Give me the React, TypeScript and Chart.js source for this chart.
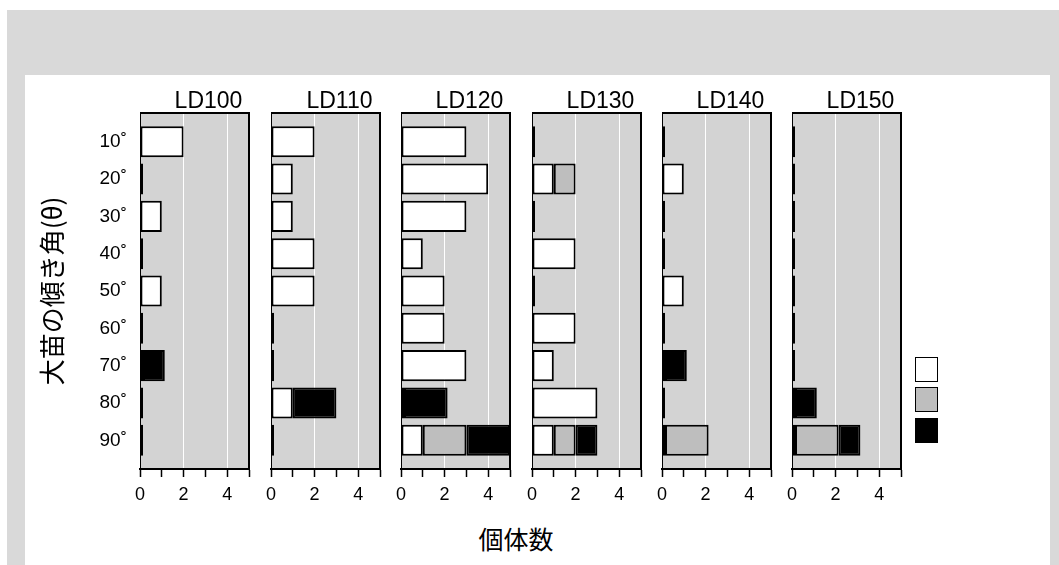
import React, { useEffect, useRef } from "react";
import { Chart, registerables } from "chart.js";
Chart.register(...registerables);

// ---- data ----
const panelNames = ["LD100", "LD110", "LD120", "LD130", "LD140", "LD150"];
const angleLabels = ["10˚", "20˚", "30˚", "40˚", "50˚", "60˚", "70˚", "80˚", "90˚"];
const countMax = 5;
const countLabelStep = 2;

// one row per panel (LD100 ... LD150), one value per angle (10˚ ... 90˚)
const whiteCounts = [
  [2, 0, 1, 0, 1, 0, 0, 0, 0],
  [2, 1, 1, 2, 2, 0, 0, 1, 0],
  [3, 4, 3, 1, 2, 2, 3, 0, 1],
  [0, 1, 0, 2, 0, 2, 1, 3, 1],
  [0, 1, 0, 0, 1, 0, 0, 0, 0],
  [0, 0, 0, 0, 0, 0, 0, 0, 0],
];
const grayCounts = [
  [0, 0, 0, 0, 0, 0, 0, 0, 0],
  [0, 0, 0, 0, 0, 0, 0, 0, 0],
  [0, 0, 0, 0, 0, 0, 0, 0, 2],
  [0, 1, 0, 0, 0, 0, 0, 0, 1],
  [0, 0, 0, 0, 0, 0, 0, 0, 2],
  [0, 0, 0, 0, 0, 0, 0, 0, 2],
];
const blackCounts = [
  [0, 0, 0, 0, 0, 0, 1, 0, 0],
  [0, 0, 0, 0, 0, 0, 0, 2, 0],
  [0, 0, 0, 0, 0, 0, 0, 2, 2],
  [0, 0, 0, 0, 0, 0, 0, 0, 1],
  [0, 0, 0, 0, 0, 0, 1, 0, 0],
  [0, 0, 0, 0, 0, 0, 0, 1, 1],
];
const seriesColors = ["#ffffff", "#bebebe", "#000000"];
const seriesValues = [whiteCounts, grayCounts, blackCounts];

const yTitle = "大苗の傾き角(θ)";
const xTitle = "個体数";

// ---- layout ----
const LATIN = '"Liberation Sans", Arial, "DejaVu Sans", sans-serif';
const CJK = '"Noto Sans CJK JP", "Noto Sans", sans-serif';
const panelLeft = [140, 271, 401, 532, 662, 792];
const panelWidth = 109;
const canvasTop = 85;
const padTop = 28;
const plotHeight = 356;
const xAxisHeight = 40;
const padRight = 15;

const panelPlugin = {
  id: "panelFrame",
  beforeDraw(chart: any) {
    const { ctx, chartArea: a } = chart;
    ctx.save();
    ctx.fillStyle = "#d3d3d3";
    ctx.fillRect(a.left, a.top, a.right - a.left, a.bottom - a.top);
    ctx.restore();
  },
  afterDraw(chart: any) {
    const { ctx, chartArea: a } = chart;
    ctx.save();
    ctx.strokeStyle = "#000";
    ctx.lineWidth = 1;
    ctx.beginPath();
    ctx.moveTo(a.left + 0.5, a.top);
    ctx.lineTo(a.left + 0.5, a.bottom);
    ctx.stroke();
    ctx.lineWidth = 2;
    ctx.beginPath();
    ctx.moveTo(a.left, a.top);
    ctx.lineTo(a.right, a.top);
    ctx.lineTo(a.right, a.bottom);
    ctx.stroke();
    const text = chart.options.plugins.panelFrame?.text;
    if (text) {
      ctx.fillStyle = "#000";
      ctx.font = `23px ${LATIN}`;
      ctx.textAlign = "center";
      ctx.textBaseline = "alphabetic";
      ctx.fillText(text, (a.left + a.right) / 2 + 14, a.top - 5);
    }
    ctx.restore();
  },
};

function Panel({ index }: { index: number }) {
  const ref = useRef<HTMLCanvasElement>(null);
  const isFirst = index === 0;
  const padL = isFirst ? 0 : 15;
  const yAxisW = isFirst ? 110 : 0;
  const left = panelLeft[index] - padL - yAxisW;
  const width = padL + yAxisW + panelWidth + padRight;
  const height = padTop + plotHeight + xAxisHeight;

  useEffect(() => {
    if (!ref.current) return;
    const chart = new Chart(ref.current, {
      type: "bar",
      data: {
        datasets: seriesValues.map((vals, k) => ({
          label: "",
          data: vals[index].map((v, j) => ({ x: v, y: j + 1 })),
          backgroundColor: seriesColors[k],
          borderColor: "#000",
          borderWidth: 2,
          borderSkipped: false,
          minBarLength: k === 0 ? 3 : 0,
          categoryPercentage: 1,
          barPercentage: 1 / 1.2,
          stack: "s",
        })),
      },
      options: {
        indexAxis: "y",
        animation: false,
        responsive: false,
        devicePixelRatio: 1,
        layout: { padding: { left: padL, right: padRight, top: padTop, bottom: 0 } },
        plugins: {
          legend: { display: false },
          tooltip: { enabled: false },
          title: { display: false },
          panelFrame: { text: panelNames[index] },
        } as any,
        scales: {
          x: {
            type: "linear",
            stacked: true,
            min: 0,
            max: countMax,
            position: "bottom",
            offset: false,
            ticks: {
              stepSize: 1,
              autoSkip: false,
              maxRotation: 0,
              padding: 7,
              color: "#000",
              font: { family: LATIN, size: 18 },
              callback: (v: any) => (v % countLabelStep === 0 && v < countMax ? String(v) : ""),
            },
            grid: {
              offset: false,
              color: (c: any) =>
                c.tick && c.tick.value > 0 && c.tick.value < countMax && c.tick.value % countLabelStep === 0
                  ? "#ffffff"
                  : "rgba(0,0,0,0)",
              lineWidth: 1,
              tickColor: "#000",
              tickLength: 8,
              tickWidth: 1.5,
              drawTicks: true,
            },
            border: { display: true, color: "#000", width: 2 },
            afterFit: (s: any) => {
              s.height = xAxisHeight;
            },
          },
          y: {
            type: "linear",
            stacked: true,
            reverse: true,
            offset: false,
            min: 0.23,
            max: angleLabels.length + 0.77,
            display: isFirst,
            afterBuildTicks: (s: any) => {
              s.ticks = angleLabels.map((_, j) => ({ value: j + 1 }));
            },
            ticks: {
              padding: 13,
              color: "#000",
              font: { family: LATIN, size: 19 },
              callback: (v: any) => angleLabels[v - 1] ?? "",
            },
            grid: { display: false, drawTicks: false, offset: false },
            border: { display: false },
            title: {
              display: isFirst,
              text: yTitle,
              color: "#000",
              font: { family: CJK, size: 26 },
              padding: { top: 7, bottom: 0 },
            },
            afterFit: (s: any) => {
              s.width = yAxisW;
            },
          },
        },
      },
      plugins: [panelPlugin],
    } as any);
    return () => chart.destroy();
  }, [index]);

  return (
    <canvas
      ref={ref}
      width={width}
      height={height}
      style={{ position: "absolute", left, top: canvasTop, width, height }}
    />
  );
}

export default function App() {
  const legendTops = [357, 387, 418];
  return (
    <div
      style={{
        position: "fixed",
        left: 0,
        top: 0,
        width: 1059,
        height: 565,
        background: "#ffffff",
        overflow: "hidden",
      }}
    >
      <div style={{ position: "absolute", left: 7, top: 10, width: 1052, height: 555, background: "#d9d9d9" }} />
      <div style={{ position: "absolute", left: 25, top: 75, width: 1025, height: 490, background: "#ffffff" }} />
      {panelNames.map((_, i) => (
        <Panel key={i} index={i} />
      ))}
      {seriesColors.map((c, k) => (
        <div
          key={k}
          style={{
            position: "absolute",
            left: 915,
            top: legendTops[k],
            width: 23,
            height: 25,
            boxSizing: "border-box",
            background: c,
            border: "1.5px solid #000",
          }}
        />
      ))}
      <div
        style={{
          position: "absolute",
          left: 416,
          top: 523,
          width: 200,
          textAlign: "center",
          font: `25px ${CJK}`,
          lineHeight: "30px",
          color: "#000",
        }}
      >
        {xTitle}
      </div>
    </div>
  );
}
